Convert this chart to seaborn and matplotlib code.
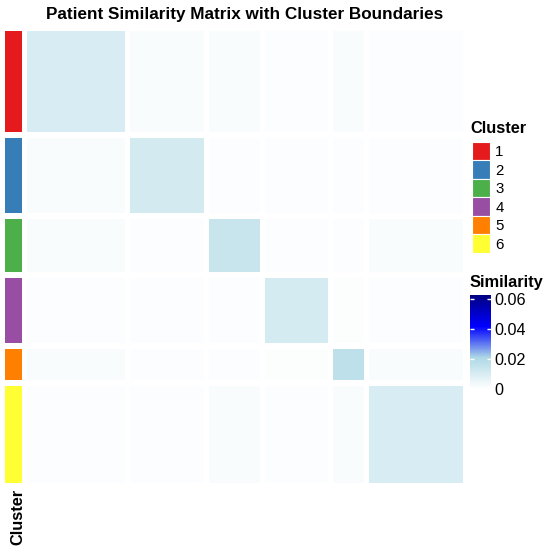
import numpy as np
import matplotlib
matplotlib.use("Agg")
import matplotlib.pyplot as plt
import seaborn as sns
from matplotlib.colors import LinearSegmentedColormap, ListedColormap, Normalize
from matplotlib.patches import Patch
from matplotlib.cm import ScalarMappable

# ---------------- data ----------------
cluster_labels = ["1", "2", "3", "4", "5", "6"]
cluster_sizes = [48, 36, 25, 31, 15, 46]
cluster_colors = ["#E41A1C", "#377EB8", "#4DAF4A", "#984EA3", "#FF7F00", "#FFFF33"]
# mean patient-to-patient similarity per cluster block (row cluster x column cluster)
block_similarity = [
    [0.0100, 0.0015, 0.0018, 0.0012, 0.0015, 0.0012],
    [0.0015, 0.0115, 0.0012, 0.0012, 0.0012, 0.0012],
    [0.0018, 0.0012, 0.0140, 0.0012, 0.0012, 0.0015],
    [0.0012, 0.0012, 0.0012, 0.0110, 0.0008, 0.0012],
    [0.0015, 0.0012, 0.0012, 0.0008, 0.0165, 0.0018],
    [0.0012, 0.0012, 0.0015, 0.0012, 0.0018, 0.0100],
]
sim_ticks = [0, 0.02, 0.04, 0.06]
sim_tick_labels = ["0", "0.02", "0.04", "0.06"]
sim_max = 0.0627
title = "Patient Similarity Matrix with Cluster Boundaries"

# ---------------- style ----------------
plt.rcParams["font.family"] = ["Liberation Sans", "DejaVu Sans"]
W, H = 550, 551
fig = plt.figure(figsize=(W / 100, H / 100), dpi=100)

cmap = LinearSegmentedColormap.from_list(
    "sim", [(0, "white"), (1 / 3, "#ADD8E6"), (2 / 3, "#0000FF"), (1, "#000080")])

patient_cluster = np.repeat(np.arange(len(cluster_sizes)), cluster_sizes)
sim = np.asarray(block_similarity)[patient_cluster][:, patient_cluster]
idx = [np.where(patient_cluster == k)[0] for k in range(len(cluster_sizes))]

left, right, top, bottom = 27 / W, 463 / W, 1 - 31 / H, 1 - 483 / H
gs = fig.add_gridspec(6, 6, left=left, right=right, top=top, bottom=bottom,
                      width_ratios=cluster_sizes, height_ratios=cluster_sizes,
                      wspace=0.07, hspace=0.085)
for i in range(6):
    for j in range(6):
        ax = fig.add_subplot(gs[i, j])
        sns.heatmap(sim[np.ix_(idx[i], idx[j])], ax=ax, cmap=cmap, vmin=0, vmax=sim_max,
                    cbar=False, xticklabels=False, yticklabels=False)
        ax.set_xlabel("")
        ax.set_ylabel("")

# row annotation
gsa = fig.add_gridspec(6, 1, left=5 / W, right=22 / W, top=top, bottom=bottom,
                       height_ratios=cluster_sizes, hspace=0.085)
ann_cmap = ListedColormap(cluster_colors)
for i in range(6):
    ax = fig.add_subplot(gsa[i, 0])
    sns.heatmap(patient_cluster[idx[i]][:, None], ax=ax, cmap=ann_cmap, vmin=-0.5, vmax=5.5,
                cbar=False, xticklabels=False, yticklabels=False)

fig.text(22 / W, 1 - 516.5 / H, "Cluster", rotation=90, rotation_mode="anchor",
         ha="center", va="baseline", fontsize=11.8, fontweight="bold")

# title
fig.text(245 / W, 1 - 19.5 / H, title, ha="center", va="baseline",
         fontsize=12.3, fontweight="bold")

# cluster legend
fig.text(470 / W, 1 - 133 / H, "Cluster", ha="left", va="baseline",
         fontsize=11.8, fontweight="bold")
handles = [Patch(facecolor=c, edgecolor="white", linewidth=0.8) for c in cluster_colors]
leg = fig.legend(handles, cluster_labels, loc="upper left",
                 bbox_to_anchor=(472 / W, 1 - 142 / H), frameon=False, fontsize=10.8,
                 handlelength=1.2, handleheight=1.52, labelspacing=0,
                 handletextpad=0.35, borderpad=0, borderaxespad=0)

# similarity colorbar
cax = fig.add_axes([470 / W, 1 - 389 / H, 21 / W, 94 / H])
cb = fig.colorbar(ScalarMappable(norm=Normalize(0, sim_max), cmap=cmap), cax=cax,
                  ticks=sim_ticks)
cb.outline.set_visible(False)
cb.minorticks_off()
cb.set_ticklabels(sim_tick_labels)
cax.tick_params(which="major", direction="in", length=3, width=1, color="white",
                left=True, right=True, labelleft=False, labelright=True,
                labelsize=11.6, pad=2.5)
fig.text(470 / W, 1 - 287 / H, "Similarity", ha="left", va="baseline",
         fontsize=11.8, fontweight="bold")

fig.savefig("out.png", dpi=100)
